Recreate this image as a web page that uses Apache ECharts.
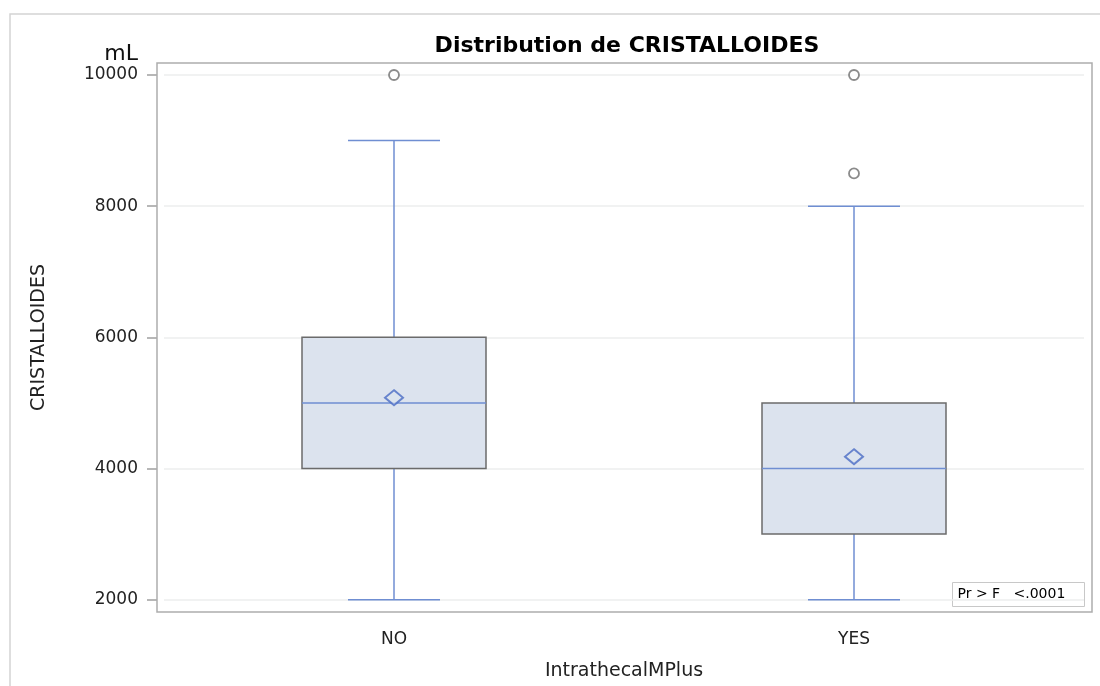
<!DOCTYPE html>
<html>
<head>
    <meta charset="utf-8">
    <script src="https://cdn.jsdelivr.net/npm/echarts@6/dist/echarts.min.js"></script>
</head>
<body style="margin:0;background:#fff">
    <div id="main" style="width: 1100px;height:686px;"></div>
    <script type="text/javascript">
        // groups on the x axis
        var groups = ['NO', 'YES'];
        // min whisker, Q1, median, Q3, max whisker
        var boxNO = [2000, 4000, 5000, 6000, 9000];
        var boxYES = [2000, 3000, 4000, 5000, 8000];
        var means = [5080, 4180];
        var outliersNO = [10000];
        var outliersYES = [8500, 10000];
        var yTicks = [2000, 4000, 6000, 8000, 10000];

        var boxData = [[0].concat(boxNO), [1].concat(boxYES)];
        var meanData = [[0, means[0]], [1, means[1]]];
        var outData = [];
        for (var i = 0; i < outliersNO.length; i++) outData.push([0, outliersNO[i]]);
        for (var j = 0; j < outliersYES.length; j++) outData.push([1, outliersYES[j]]);

        var blue = '#6f8ed2';
        var font = 'DejaVu Sans, sans-serif';

        function renderBox(params, api) {
            var x = api.value(0);
            var band = api.size([1, 0])[0];
            var half = band * 0.2;
            var cap = half * 0.5;
            var pMin = api.coord([x, api.value(1)]);
            var pQ1 = api.coord([x, api.value(2)]);
            var pMed = api.coord([x, api.value(3)]);
            var pQ3 = api.coord([x, api.value(4)]);
            var pMax = api.coord([x, api.value(5)]);
            var cx = pMed[0];
            var line = { stroke: blue, lineWidth: 1.5 };
            return {
                type: 'group',
                children: [
                    { type: 'line', shape: { x1: cx, y1: pMin[1], x2: cx, y2: pQ1[1] }, style: line },
                    { type: 'line', shape: { x1: cx, y1: pQ3[1], x2: cx, y2: pMax[1] }, style: line },
                    { type: 'line', shape: { x1: cx - cap, y1: pMin[1], x2: cx + cap, y2: pMin[1] }, style: line },
                    { type: 'line', shape: { x1: cx - cap, y1: pMax[1], x2: cx + cap, y2: pMax[1] }, style: line },
                    {
                        type: 'rect',
                        shape: { x: cx - half, y: pQ3[1], width: half * 2, height: pQ1[1] - pQ3[1] },
                        style: { fill: '#dce3ee', stroke: '#6b6b6b', lineWidth: 1.5 }
                    },
                    { type: 'line', shape: { x1: cx - half, y1: pMed[1], x2: cx + half, y2: pMed[1] }, style: line }
                ]
            };
        }

        var myChart = echarts.init(document.getElementById('main'));
        var option = {
            animation: false,
            title: {
                text: 'Distribution de CRISTALLOIDES',
                left: 622,
                textAlign: 'center',
                top: 30,
                textStyle: { fontFamily: font, fontWeight: 'bold', fontSize: 22, color: '#000' }
            },
            grid: {
                left: 164, right: 16, top: 63, bottom: 74
            },
            xAxis: {
                type: 'category',
                data: groups,
                name: 'IntrathecalMPlus',
                nameLocation: 'middle',
                nameGap: 50,
                nameTextStyle: { fontFamily: font, fontSize: 19, color: '#222' },
                axisLine: { show: false },
                axisTick: { alignWithLabel: true, length: 8, lineStyle: { color: '#a0a0a0', width: 1.5 } },
                axisLabel: { fontFamily: font, fontSize: 17, color: '#222', margin: 19 },
                splitLine: { show: false }
            },
            yAxis: {
                type: 'value',
                min: 1812,
                max: 10183,
                offset: 7,
                name: 'CRISTALLOIDES',
                nameLocation: 'middle',
                nameGap: 108,
                nameRotate: 90,
                nameTextStyle: { fontFamily: font, fontSize: 19, color: '#222' },
                axisLine: { show: false },
                axisTick: { show: true, length: 10, customValues: yTicks, lineStyle: { color: '#a0a0a0', width: 1.5 } },
                axisLabel: {
                    fontFamily: font, fontSize: 17, color: '#222', margin: 19, customValues: yTicks,
                    formatter: function (v) { return String(v); }
                },
                splitLine: { show: true, lineStyle: { color: '#eceeee', width: 1.5 } }
            },
            graphic: [
                {
                    type: 'rect', silent: true,
                    shape: { x: 10, y: 14, width: 1200, height: 800 },
                    style: { fill: 'none', stroke: '#d4d4d4', lineWidth: 1.5 }
                },
                {
                    type: 'rect', silent: true, z: 10,
                    shape: { x: 157, y: 63, width: 935, height: 549 },
                    style: { fill: 'none', stroke: '#adadad', lineWidth: 1.5 }
                },
                {
                    type: 'text', right: 962, top: 43,
                    style: { text: 'mL', fontFamily: font, fontSize: 22, fill: '#111' }
                },
                {
                    type: 'group', left: 952, top: 582, z: 11,
                    children: [
                        {
                            type: 'rect', shape: { x: 0, y: 0, width: 132, height: 24 },
                            style: { fill: '#fff', stroke: '#c8c8c8', lineWidth: 1 }
                        },
                        {
                            type: 'text', x: 5, y: 5,
                            style: { text: 'Pr > F   <.0001', fontFamily: font, fontSize: 14, fill: '#000' }
                        }
                    ]
                }
            ],
            series: [
                {
                    type: 'custom',
                    renderItem: renderBox,
                    encode: { x: 0, y: [1, 2, 3, 4, 5] },
                    data: boxData,
                    z: 2
                },
                {
                    type: 'scatter',
                    data: meanData,
                    symbol: 'diamond',
                    symbolSize: [18, 15],
                    itemStyle: { color: '#dce3ee', borderColor: '#4a6cc4', borderWidth: 2 },
                    z: 3
                },
                {
                    type: 'scatter',
                    data: outData,
                    symbol: 'circle',
                    symbolSize: 10,
                    itemStyle: { color: '#fff', borderColor: '#6e6e6e', borderWidth: 1.8 },
                    z: 3
                }
            ]
        };
        myChart.setOption(option);
    </script>
</body>
</html>
